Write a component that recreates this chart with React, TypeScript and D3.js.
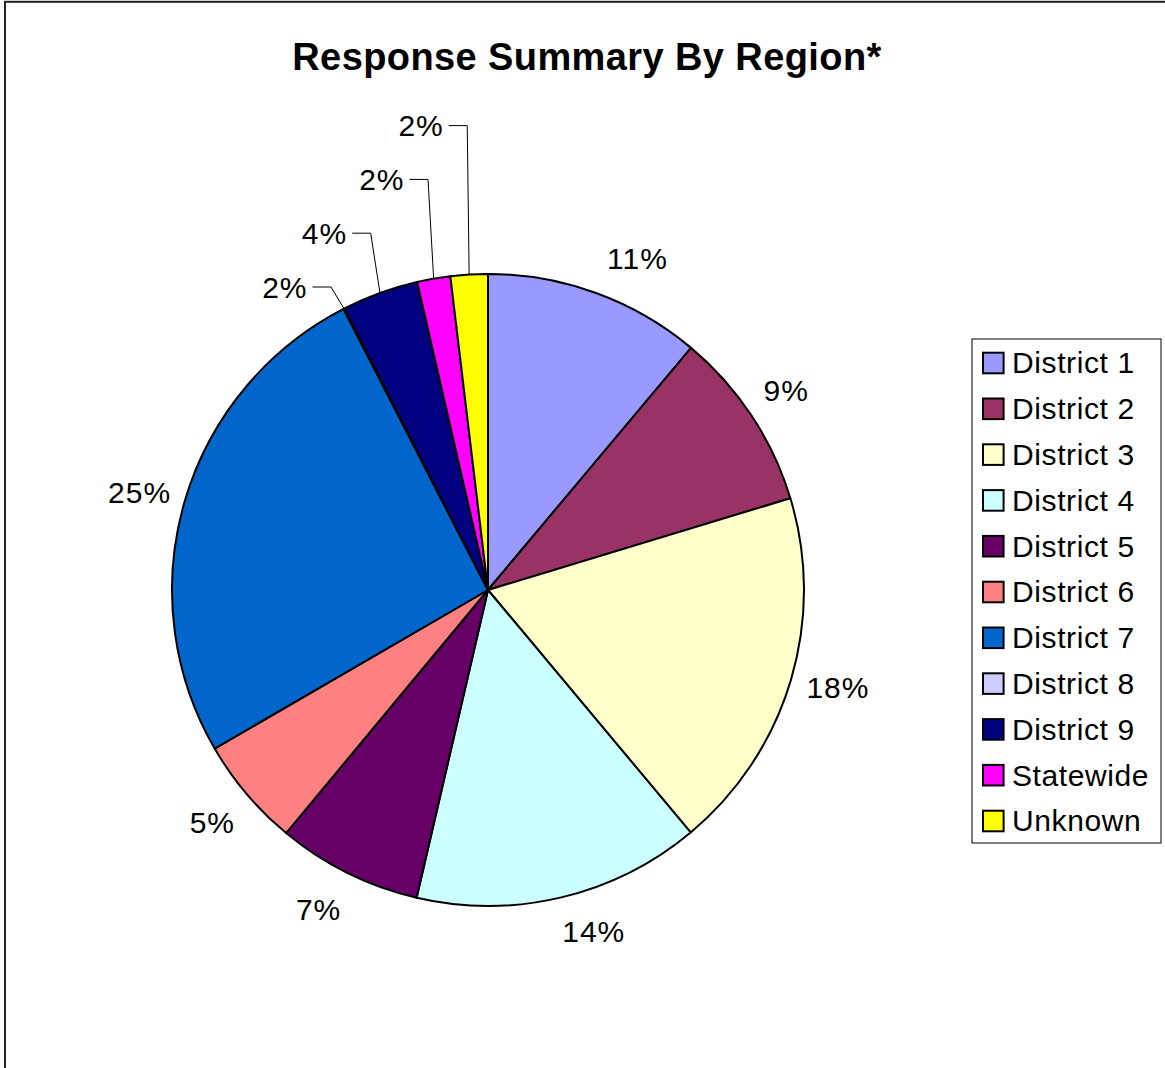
import React from "react";
import * as d3 from "d3";

const categories = [
  "District 1", "District 2", "District 3", "District 4", "District 5",
  "District 6", "District 7", "District 8", "District 9", "Statewide", "Unknown",
];
const values = [11.1, 9.2, 18.6, 14.7, 7.4, 5.6, 25.8, 0.05, 3.9, 1.7, 1.9];
const labels = ["11%", "9%", "18%", "14%", "7%", "5%", "25%", "2%", "4%", "2%", "2%"];
const colors = [
  "#9999FF", "#993366", "#FFFFCC", "#CCFFFF", "#660066",
  "#FF8080", "#0066CC", "#CCCCFF", "#000080", "#FF00FF", "#FFFF00",
];
const title = "Response Summary By Region*";

const W = 1165;
const H = 1068;
const cx = 488;
const cy = 590;
const R = 316;
const FONT = "'Liberation Sans', Arial, sans-serif";
// small placement nudges for the outside labels (layout only)
const labelNudge: [number, number][] = [
  [26, 7], [-3, -1], [4, -6], [22, -10], [-9, -4], [0, -1], [-2, 4],
];

export default function App() {
  const pie = d3.pie<number>().sort(null).value((d) => d)(values);
  const arc = d3.arc<d3.PieArcDatum<number>>().innerRadius(0).outerRadius(R);
  const leaderStart = 7;
  const labelDist = 361;

  const legendX = 972, legendY = 339, legendW = 189, legendH = 504;
  const rowTop = 352.7, rowStep = 45.8, sw = 20.6;

  return (
    <svg
      width={W}
      height={H}
      style={{ position: "absolute", left: 0, top: 0, background: "#fff" }}
    >
      <rect x={0} y={0} width={W} height={H} fill="#fff" />
      <rect x={5} y={1.8} width={W + 20} height={H + 20} fill="none" stroke="#222" strokeWidth={2} />
      <text x={587} y={70} textAnchor="middle" fontFamily={FONT} fontWeight="bold" fontSize={38} letterSpacing={0.4}>
        {title}
      </text>
      <g transform={`translate(${cx},${cy})`}>
        {pie.map((p, i) => (
          <path key={i} d={arc(p) || ""} fill={colors[i]} stroke="#000" strokeWidth={2} strokeLinejoin="round" />
        ))}
        {pie.map((p, i) => {
          const mid = (p.startAngle + p.endAngle) / 2;
          if (i < leaderStart) {
            const x = labelDist * Math.sin(mid) + labelNudge[i][0];
            const y = -labelDist * Math.cos(mid) + labelNudge[i][1];
            return (
              <text key={"l" + i} x={x} y={y} dy="0.36em" textAnchor="middle" fontFamily={FONT} fontSize={30} letterSpacing={1}>
                {labels[i]}
              </text>
            );
          }
          const k = i - leaderStart;
          const ax = R * Math.sin(mid);
          const ay = -R * Math.cos(mid);
          const ey = -303 - 53.8 * k;
          const ex = ax - (13 - 3.7 * k);
          const hx = ex - 18.5;
          return (
            <g key={"l" + i}>
              <polyline points={`${ax},${ay} ${ex},${ey} ${hx},${ey}`} fill="none" stroke="#000" strokeWidth={1} />
              <text x={hx - 5} y={ey} dy="0.36em" textAnchor="end" fontFamily={FONT} fontSize={30} letterSpacing={1}>
                {labels[i]}
              </text>
            </g>
          );
        })}
      </g>
      <rect x={legendX} y={legendY} width={legendW} height={legendH} fill="#fff" stroke="#000" strokeWidth={1} />
      {categories.map((c, i) => {
        const y = rowTop + i * rowStep;
        return (
          <g key={c}>
            <rect x={983} y={y} width={sw} height={sw} fill={colors[i]} stroke="#000" strokeWidth={2} />
            <text x={1012} y={y + sw} fontFamily={FONT} fontSize={30} letterSpacing={0.6}>
              {c}
            </text>
          </g>
        );
      })}
    </svg>
  );
}
